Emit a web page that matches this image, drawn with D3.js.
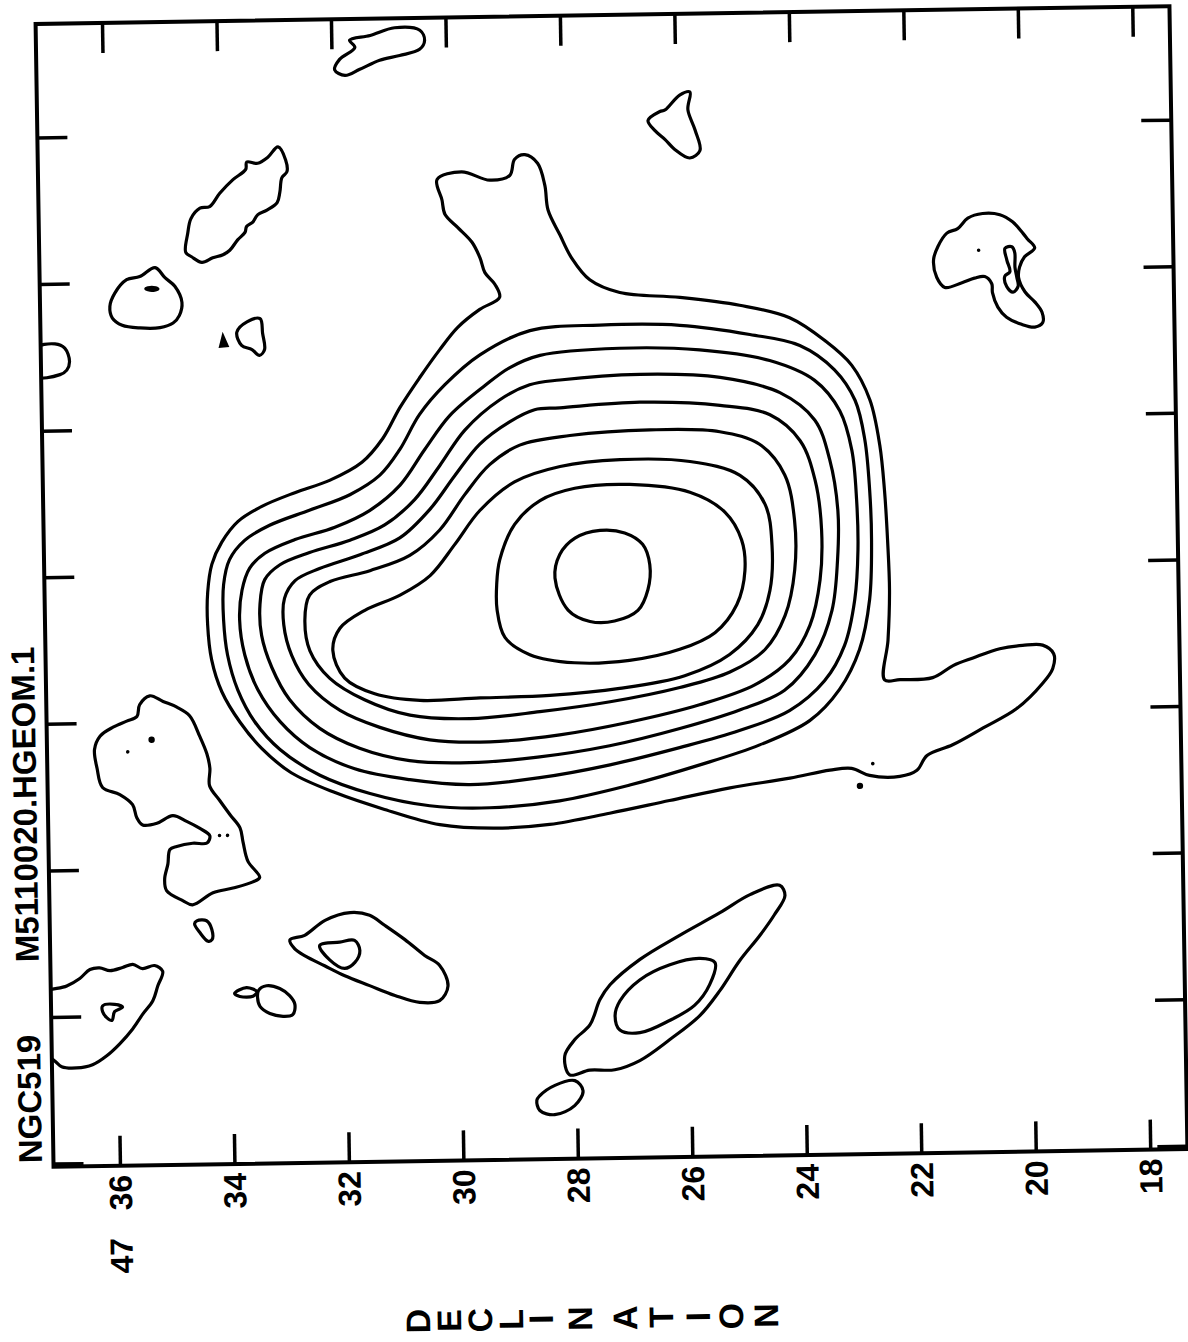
<!DOCTYPE html>
<html>
<head>
<meta charset="utf-8">
<script src="https://cdn.jsdelivr.net/npm/d3@7"></script>
<style>
  html, body { margin: 0; background: #fff; }
  text { font-family: "Liberation Sans", Arial, Helvetica, sans-serif; font-weight: bold; fill: #000; }
</style>
</head>
<body>
<svg id="chart" width="1188" height="1342"></svg>
<script>
// ---- axis values ----
const decRange = [37.16, 17.35];          // declination (arcmin past 47 deg) across the map
const raRange = [-0.774, 7.022];          // right-ascension offset, tick units
const decTicks = [36, 34, 32, 30, 28, 26, 24, 22, 20, 18];
const decLabels = ["36", "34", "32", "30", "28", "26", "24", "22", "20", "18"];
const decDegrees = "47";
const raTicks = [0, 1, 2, 3, 4, 5, 6, 7];
const sourceName = "NGC519";
const mapName = "M5110020.HGEOM.1";
const axisName = "DECLINATION";

// ---- contours of the main emission, outermost to innermost: [dec, ra] ----
const level1 = [[30.19,0.33],[30.11,0.47],[30.06,0.57],[29.84,0.66],[29.60,0.76],[29.46,0.87],[29.38,0.97],[29.21,1.05],[29.13,1.14],[29.48,1.22],[29.87,1.34],[30.19,1.49],[30.55,1.68],[30.90,1.88],[31.21,2.09],[31.58,2.25],[32.15,2.37],[32.76,2.45],[33.34,2.54],[33.76,2.64],[34.05,2.78],[34.23,2.93],[34.31,3.12],[34.32,3.34],[34.26,3.58],[34.09,3.80],[33.78,4.01],[33.41,4.19],[32.90,4.36],[32.14,4.50],[31.28,4.62],[30.32,4.73],[29.36,4.76],[28.40,4.74],[27.35,4.67],[26.30,4.59],[25.24,4.51],[24.19,4.45],[23.49,4.40],[23.11,4.39],[22.80,4.44],[22.27,4.45],[21.97,4.41],[21.79,4.31],[21.34,4.24],[20.81,4.13],[20.21,4.00],[19.75,3.83],[19.57,3.73],[19.55,3.63],[19.74,3.57],[20.09,3.57],[20.49,3.59],[20.96,3.65],[21.31,3.70],[21.67,3.78],[22.24,3.79],[22.51,3.79],[22.44,3.52],[22.40,3.18],[22.42,2.84],[22.46,2.50],[22.53,2.19],[22.69,1.88],[23.00,1.64],[23.46,1.47],[24.07,1.31],[24.94,1.22],[25.98,1.16],[27.03,1.12],[27.55,1.03],[27.86,0.88],[28.06,0.72],[28.26,0.55],[28.31,0.38],[28.43,0.23],[28.65,0.17],[28.83,0.20],[28.92,0.31],[29.27,0.34],[29.76,0.28]];
const level2 = [[28.61,1.37],[27.39,1.34],[25.99,1.35],[24.77,1.42],[23.90,1.50],[23.30,1.67],[22.95,1.88],[22.79,2.15],[22.72,2.49],[22.70,2.83],[22.75,3.24],[22.94,3.58],[23.30,3.85],[23.83,4.06],[24.71,4.22],[25.76,4.35],[26.99,4.48],[28.22,4.58],[29.44,4.62],[30.49,4.60],[31.53,4.51],[32.40,4.38],[33.09,4.20],[33.52,4.01],[33.81,3.79],[33.98,3.55],[34.04,3.31],[34.03,3.07],[33.92,2.90],[33.65,2.77],[33.21,2.67],[32.50,2.57],[31.80,2.47],[31.27,2.34],[30.92,2.17],[30.56,1.93],[30.11,1.73],[29.49,1.53]];
const level3 = [[28.44,1.54],[27.05,1.50],[25.65,1.52],[24.43,1.60],[23.65,1.74],[23.22,1.95],[23.02,2.22],[22.95,2.56],[22.94,2.90],[23.01,3.24],[23.20,3.55],[23.56,3.79],[24.18,3.99],[25.06,4.12],[26.11,4.23],[27.33,4.34],[28.56,4.42],[29.78,4.46],[30.83,4.42],[31.79,4.34],[32.57,4.19],[33.08,4.01],[33.46,3.79],[33.68,3.55],[33.76,3.31],[33.71,3.11],[33.57,2.96],[33.30,2.86],[32.77,2.77],[32.07,2.69],[31.46,2.58],[30.92,2.41],[30.48,2.17],[30.03,1.94],[29.41,1.74],[28.97,1.62]];
const level4 = [[28.10,1.71],[26.70,1.68],[25.30,1.71],[24.26,1.82],[23.66,2.01],[23.41,2.28],[23.28,2.63],[23.30,2.97],[23.41,3.31],[23.72,3.61],[24.26,3.85],[25.05,3.98],[26.10,4.10],[27.33,4.21],[28.59,4.28],[29.78,4.31],[30.83,4.29],[31.70,4.20],[32.39,4.06],[32.91,3.86],[33.21,3.64],[33.38,3.42],[33.40,3.21],[33.31,3.04],[33.04,2.94],[32.52,2.86],[31.81,2.78],[31.20,2.68],[30.67,2.51],[30.22,2.28],[29.77,2.04],[29.16,1.84],[28.63,1.74]];
const level5 = [[28.11,1.90],[26.71,1.87],[25.31,1.90],[24.44,1.97],[23.92,2.15],[23.67,2.42],[23.57,2.76],[23.61,3.10],[23.80,3.41],[24.16,3.64],[24.78,3.81],[25.75,3.94],[26.97,4.05],[28.20,4.13],[29.42,4.17],[30.47,4.15],[31.34,4.06],[32.03,3.94],[32.57,3.76],[32.86,3.56],[32.99,3.35],[32.97,3.17],[32.78,3.05],[32.35,2.97],[31.64,2.88],[30.94,2.77],[30.41,2.58],[29.96,2.35],[29.52,2.14],[28.99,1.99],[28.55,1.91]];
const level6 = [[27.94,2.09],[26.54,2.06],[25.32,2.08],[24.63,2.17],[24.20,2.38],[24.04,2.69],[24.05,3.03],[24.23,3.34],[24.59,3.57],[25.21,3.72],[26.09,3.82],[27.31,3.91],[28.54,3.97],[29.76,4.01],[30.81,3.98],[31.60,3.87],[32.20,3.72],[32.54,3.53],[32.62,3.32],[32.53,3.15],[32.17,3.06],[31.47,2.99],[30.77,2.89],[30.24,2.72],[29.79,2.48],[29.35,2.28],[28.82,2.15]];
const level7 = [[32.14,3.53],[32.01,3.38],[31.57,3.26],[30.95,3.16],[30.42,3.03],[29.98,2.82],[29.53,2.59],[28.92,2.40],[28.12,2.30],[27.07,2.26],[25.85,2.28],[24.98,2.38],[24.55,2.58],[24.44,2.86],[24.49,3.17],[24.71,3.40],[25.21,3.60],[26.00,3.74],[27.14,3.82],[28.36,3.86],[29.58,3.87],[30.63,3.88],[31.42,3.83],[31.94,3.72]];
const level8 = [[29.20,2.93],[28.93,2.69],[28.48,2.53],[27.87,2.45],[26.91,2.43],[25.86,2.49],[25.25,2.63],[24.97,2.82],[24.92,3.03],[25.07,3.26],[25.46,3.45],[26.08,3.56],[26.96,3.63],[27.92,3.64],[28.70,3.58],[29.13,3.46],[29.26,3.27],[29.26,3.10]];
const level9 = [[28.24,3.06],[28.15,2.90],[27.88,2.79],[27.44,2.74],[27.01,2.76],[26.70,2.84],[26.58,2.98],[26.62,3.15],[26.80,3.29],[27.21,3.36],[27.64,3.36],[28.02,3.28]];

// ---- outlying clouds (lowest level, some with an inner ring) ----
const cloudNW = [[32.96,0.09],[32.83,0.18],[32.81,0.26],[32.90,0.30],[32.94,0.40],[32.99,0.47],[33.17,0.52],[33.33,0.55],[33.42,0.60],[33.53,0.63],[33.56,0.67],[33.69,0.72],[33.83,0.79],[33.95,0.82],[34.13,0.84],[34.32,0.87],[34.50,0.83],[34.60,0.80],[34.56,0.67],[34.50,0.57],[34.34,0.50],[34.17,0.49],[33.99,0.40],[33.76,0.31],[33.53,0.24],[33.51,0.19],[33.32,0.20],[33.14,0.16]];
const cloudW1 = [[35.14,0.90],[34.97,0.97],[34.80,1.03],[34.68,1.14],[34.73,1.23],[34.84,1.28],[35.07,1.31],[35.42,1.31],[35.73,1.29],[35.90,1.24],[35.94,1.16],[35.85,1.07],[35.64,0.98],[35.41,0.96]];
const cloudW1core = [[35.307,1.044],[35.202,1.034],[35.097,1.046],[35.204,1.055]];
const cloudW2 = [[33.55,1.28],[33.32,1.26],[33.28,1.36],[33.25,1.47],[33.34,1.51],[33.47,1.47],[33.65,1.44],[33.73,1.35]];
const cloudEdgeW = [[37.26,1.44],[36.91,1.41],[36.74,1.44],[36.66,1.53],[36.71,1.59],[36.83,1.62],[37.27,1.63]];
const cloudNE = [[20.93,0.65],[20.67,0.62],[20.37,0.63],[20.15,0.68],[19.97,0.76],[19.89,0.80],[19.77,0.86],[19.95,0.92],[20.04,0.99],[20.06,1.06],[19.95,1.16],[19.78,1.23],[19.66,1.30],[19.65,1.37],[19.79,1.40],[20.02,1.38],[20.28,1.33],[20.43,1.26],[20.52,1.16],[20.53,1.10],[20.65,1.05],[20.83,1.06],[21.05,1.09],[21.35,1.12],[21.49,1.05],[21.54,0.93],[21.46,0.84],[21.30,0.75],[21.11,0.72]];
const cloudNEcore = [[20.29,0.86],[20.17,0.85],[20.12,0.89],[20.12,0.99],[20.09,1.06],[20.07,1.12],[20.16,1.16],[20.27,1.12],[20.30,1.05],[20.21,1.02],[20.26,0.94]];
const cloudSW1 = [[35.35,3.82],[35.12,3.86],[34.88,3.90],[34.66,3.96],[34.49,4.10],[34.37,4.22],[34.32,4.32],[34.33,4.44],[34.16,4.54],[33.98,4.64],[33.81,4.73],[33.76,4.83],[33.68,4.96],[33.48,5.07],[33.60,5.10],[33.95,5.14],[34.30,5.17],[34.66,5.25],[34.83,5.22],[35.11,5.15],[35.14,5.07],[35.08,4.97],[35.04,4.87],[34.92,4.85],[34.64,4.83],[34.39,4.83],[34.34,4.78],[34.51,4.73],[34.74,4.68],[34.98,4.64],[35.26,4.69],[35.51,4.70],[35.61,4.65],[35.68,4.56],[35.90,4.49],[36.20,4.44],[36.29,4.31],[36.33,4.18],[36.23,4.09],[36.00,4.03],[35.76,3.99],[35.58,3.96],[35.53,3.88]];
const cloudSW2 = [[34.59,5.36],[34.42,5.36],[34.33,5.42],[34.33,5.49],[34.40,5.50],[34.54,5.44],[34.63,5.38]];
const cloudEdgeSW = [[37.35,5.85],[36.88,5.79],[36.65,5.74],[36.47,5.68],[36.30,5.67],[36.12,5.69],[35.90,5.67],[35.72,5.65],[35.55,5.68],[35.34,5.66],[35.20,5.70],[35.29,5.80],[35.38,5.90],[35.56,5.99],[35.74,6.09],[35.97,6.19],[36.20,6.27],[36.45,6.33],[36.73,6.35],[36.99,6.34],[37.11,6.30],[37.37,6.22]];
const cloudEdgeSWcore = [[36.26,5.93],[36.05,5.92],[35.91,5.94],[36.05,5.97],[36.10,6.03],[36.19,6.01],[36.26,5.97]];
const cloudS1 = [[33.95,5.86],[33.74,5.82],[33.56,5.85],[33.63,5.88],[33.86,5.88]];
const cloudS2 = [[33.53,5.84],[33.39,5.81],[33.16,5.83],[32.99,5.88],[32.90,5.94],[32.94,6.01],[33.11,6.02],[33.34,6.00],[33.51,5.95],[33.55,5.89]];
const cloudS3 = [[32.97,5.50],[32.71,5.47],[32.35,5.37],[31.91,5.32],[31.57,5.34],[31.31,5.41],[30.96,5.51],[30.62,5.62],[30.36,5.69],[30.22,5.83],[30.37,5.93],[30.72,5.94],[31.15,5.89],[31.59,5.82],[32.02,5.75],[32.37,5.68],[32.71,5.61],[32.89,5.56]];
const cloudS3core = [[32.45,5.54],[32.10,5.52],[31.84,5.51],[31.75,5.58],[31.84,5.66],[32.02,5.70],[32.28,5.64]];
const cloudSE = [[28.20,6.32],[28.02,6.21],[27.75,6.11],[27.57,5.94],[27.39,5.84],[26.86,5.67],[26.16,5.51],[25.45,5.36],[24.92,5.24],[24.40,5.18],[24.31,5.25],[24.50,5.38],[24.76,5.52],[25.12,5.69],[25.47,5.89],[25.83,6.06],[26.36,6.22],[26.89,6.36],[27.33,6.42],[27.77,6.42],[28.12,6.45]];
const cloudSEcore = [[27.22,5.95],[26.87,5.81],[26.34,5.71],[25.81,5.67],[25.55,5.70],[25.65,5.85],[25.92,5.99],[26.36,6.09],[26.88,6.17],[27.23,6.15],[27.31,6.05]];
const cloudS4 = [[28.65,6.59],[28.38,6.52],[28.03,6.49],[27.89,6.56],[28.04,6.66],[28.39,6.72],[28.65,6.69],[28.70,6.62]];
const cloudN1 = [[31.86,-0.50],[31.59,-0.58],[31.68,-0.63],[31.32,-0.66],[30.89,-0.71],[30.45,-0.69],[30.37,-0.62],[30.46,-0.56],[30.81,-0.52],[31.16,-0.49],[31.51,-0.43],[31.77,-0.39],[31.95,-0.43]];
const cloudN2 = [[26.19,-0.12],[25.93,-0.22],[25.75,-0.24],[25.79,-0.12],[25.67,0.02],[25.59,0.16],[25.77,0.21],[26.03,0.15],[26.20,0.08],[26.37,0.02],[26.49,-0.05],[26.28,-0.11]];
const solidBits = [[[33.974,1.366],[34.030,1.448],[33.890,1.443]]];
const dots = [[35.75,4.20],[34.17,4.78],[34.03,4.78],[20.75,0.87],[22.74,4.36]];
const knots = [[35.33,4.12],[22.97,4.51]];

const mainLevels = [level1, level2, level3, level4, level5, level6, level7, level8, level9];
const clouds = [cloudNW, cloudW1, cloudW1core, cloudW2, cloudEdgeW, cloudNE, cloudNEcore,
  cloudSW1, cloudSW2, cloudEdgeSW, cloudEdgeSWcore, cloudS1, cloudS2, cloudS3, cloudS3core,
  cloudSE, cloudSEcore, cloudS4, cloudN1, cloudN2];

// ---- drawing ----
const W = 1188, H = 1342;
const svg = d3.select("#chart");
svg.append("rect").attr("width", W).attr("height", H).attr("fill", "#fff");

// the plotted sheet sits slightly turned
const g = svg.append("g").attr("transform", "rotate(-0.9 611.5 586.5)");

const x = d3.scaleLinear().domain(decRange).range([44.5, 1178.5]);
const y = d3.scaleLinear().domain(raRange).range([15, 1158]);
const [x0, x1] = x.range();
const [y0, y1] = y.range();

g.append("clipPath").attr("id", "plotArea")
  .append("rect").attr("x", x0).attr("y", y0).attr("width", x1 - x0).attr("height", y1 - y0);

const contourLine = d3.line()
  .x(d => x(d[0])).y(d => y(d[1]))
  .curve(d3.curveCatmullRomClosed.alpha(0.5));

const mapG = g.append("g").attr("clip-path", "url(#plotArea)");

mapG.append("g")
  .attr("fill", "none").attr("stroke", "#000").attr("stroke-width", 3.2)
  .attr("stroke-linejoin", "round")
  .selectAll("path").data(mainLevels.concat(clouds)).join("path")
  .attr("d", contourLine);

mapG.append("g").selectAll("path").data(solidBits).join("path")
  .attr("d", d3.line().x(d => x(d[0])).y(d => y(d[1])).curve(d3.curveLinearClosed))
  .attr("fill", "#000").attr("stroke", "#000").attr("stroke-width", 2);

mapG.append("g").selectAll("circle").data(dots).join("circle")
  .attr("cx", d => x(d[0])).attr("cy", d => y(d[1])).attr("r", 1.8).attr("fill", "#000");
mapG.append("g").selectAll("circle").data(knots).join("circle")
  .attr("cx", d => x(d[0])).attr("cy", d => y(d[1])).attr("r", 3.2).attr("fill", "#000");

// ticks on all four sides, pointing inward
const tickLen = 30;
function styleAxis(sel) {
  sel.select(".domain").remove();
  sel.selectAll(".tick line").attr("stroke", "#000").attr("stroke-width", 3.5);
  sel.selectAll(".tick text").remove();
}
g.append("g").attr("transform", `translate(0,${y0})`)
  .call(d3.axisTop(x).tickValues(decTicks).tickSize(-tickLen)).call(styleAxis);
g.append("g").attr("transform", `translate(0,${y1})`)
  .call(d3.axisBottom(x).tickValues(decTicks).tickSize(-tickLen)).call(styleAxis);
g.append("g").attr("transform", `translate(${x0},0)`)
  .call(d3.axisLeft(y).tickValues(raTicks).tickSize(-tickLen)).call(styleAxis);
g.append("g").attr("transform", `translate(${x1},0)`)
  .call(d3.axisRight(y).tickValues(raTicks).tickSize(-tickLen)).call(styleAxis);

// frame
g.append("rect").attr("x", x0).attr("y", y0).attr("width", x1 - x0).attr("height", y1 - y0)
  .attr("fill", "none").attr("stroke", "#000").attr("stroke-width", 4);

// declination labels, written upward
g.append("g").selectAll("text").data(decTicks).join("text")
  .attr("transform", d => `translate(${x(d) + 11.5},${y1 + 9}) rotate(-90)`)
  .attr("text-anchor", "end").attr("font-size", 32)
  .text((d, i) => decLabels[i]);
g.append("text")
  .attr("transform", `translate(${x(decTicks[0]) + 11.5},${y1 + 72}) rotate(-90)`)
  .attr("text-anchor", "end").attr("font-size", 32)
  .text(decDegrees);

// map identification along the left side
g.append("text")
  .attr("transform", `translate(33,${y1 - 4}) rotate(-90)`)
  .attr("font-size", 33).text(sourceName);
g.append("text")
  .attr("transform", `translate(33,953) rotate(-90)`)
  .attr("font-size", 33).text(mapName);

// axis name, one turned letter per line
const letterX = [406.5, 437.5, 468.5, 499.5, 529.5, 568.5, 613.5, 649.5, 686.5, 719.5, 754.5];
g.append("g").selectAll("text").data(axisName.split("")).join("text")
  .attr("transform", (d, i) => `translate(${letterX[i] + 12},1318) rotate(-90)`)
  .attr("text-anchor", "middle")
  .attr("font-size", 34).text(d => d);
</script>
</body>
</html>
